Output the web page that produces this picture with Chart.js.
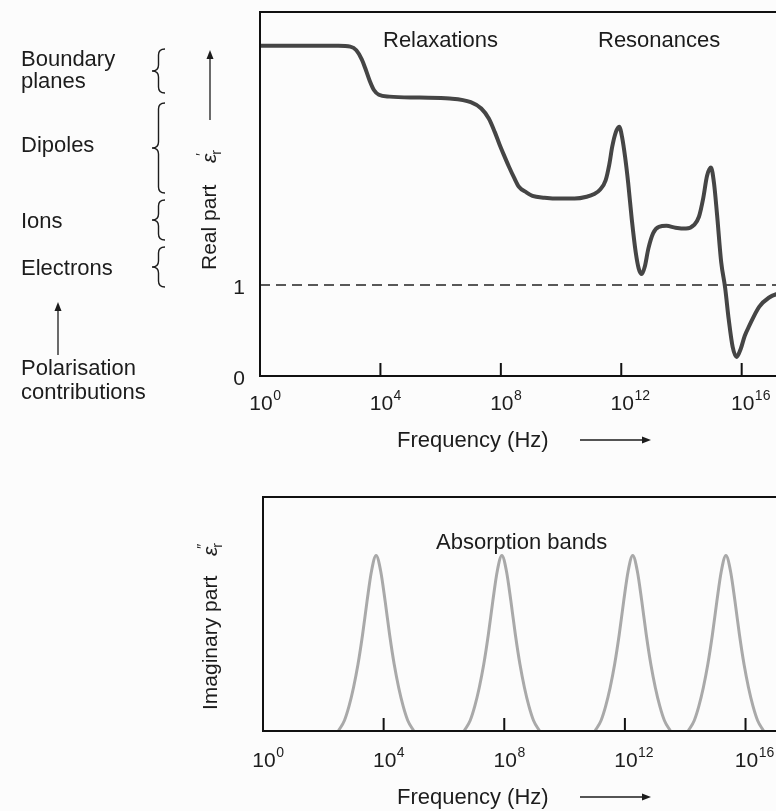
<!DOCTYPE html>
<html><head><meta charset="utf-8">
<script src="https://cdn.jsdelivr.net/npm/chart.js@4.4.1/dist/chart.umd.min.js"></script>
<style>
html,body{margin:0;padding:0;overflow:hidden;width:776px;height:811px;background:#fcfcfc;}
#top{position:absolute;left:0;top:0;}
#bot{position:absolute;left:0;top:470px;}
</style></head><body>
<canvas id="top" width="832" height="470"></canvas>
<canvas id="bot" width="836" height="341"></canvas>
<script>
// ---------- data (frequency as log10 exponent of Hz) ----------
const realExp = [0, 1.5, 2.6, 3.0, 3.2, 3.38, 3.52, 3.65, 3.79, 3.95, 4.3, 5.3, 6.3, 7.0, 7.35, 7.6, 7.8, 7.95, 8.1, 8.27, 8.44, 8.6, 8.84, 9.05, 9.45, 9.95, 10.45, 10.85, 11.1, 11.3, 11.48, 11.6, 11.7, 11.82, 11.93, 12.03, 12.13, 12.23, 12.35, 12.48, 12.58, 12.68, 12.78, 12.9, 13.06, 13.25, 13.5, 13.8, 14.15, 14.42, 14.58, 14.72, 14.85, 14.98, 15.08, 15.18, 15.32, 15.45, 15.57, 15.7, 15.83, 15.97, 16.1, 16.25, 16.58, 16.9, 17.25, 17.6, 18.0, 18.5, 19.0];
const realVal = [3.63, 3.63, 3.63, 3.62, 3.58, 3.48, 3.36, 3.24, 3.14, 3.09, 3.07, 3.06, 3.05, 3.01, 2.94, 2.83, 2.68, 2.55, 2.43, 2.30, 2.18, 2.08, 2.02, 1.98, 1.96, 1.95, 1.95, 1.97, 2.00, 2.05, 2.15, 2.32, 2.52, 2.68, 2.74, 2.62, 2.40, 2.12, 1.72, 1.36, 1.18, 1.12, 1.20, 1.40, 1.57, 1.64, 1.65, 1.63, 1.62, 1.66, 1.75, 1.95, 2.20, 2.29, 2.12, 1.78, 1.25, 0.97, 0.62, 0.32, 0.21, 0.30, 0.44, 0.55, 0.76, 0.86, 0.91, 0.94, 0.96, 0.97, 0.98];
const vacuumExp = [0, 19];
const vacuumVal = [1, 1];
// absorption bands (null = gap between bands)
const absExp = [
  2.50, 2.70, 2.85, 3.00, 3.15, 3.30, 3.45, 3.60, 3.75, 3.90, 4.05, 4.20, 4.35, 4.50, 4.65, 4.80, 5.00, 5.8,
  6.67, 6.87, 7.02, 7.17, 7.32, 7.47, 7.62, 7.77, 7.92, 8.07, 8.22, 8.37, 8.52, 8.67, 8.82, 8.97, 9.17, 10.0,
  11.01, 11.21, 11.36, 11.51, 11.66, 11.81, 11.96, 12.11, 12.26, 12.41, 12.56, 12.71, 12.86, 13.01, 13.16, 13.31, 13.51, 13.8,
  14.10, 14.30, 14.45, 14.60, 14.75, 14.90, 15.05, 15.20, 15.35, 15.50, 15.65, 15.80, 15.95, 16.10, 16.25, 16.40, 16.60];
const absVal = [
  0, 0.045, 0.105, 0.185, 0.285, 0.41, 0.555, 0.685, 0.75, 0.685, 0.555, 0.41, 0.285, 0.185, 0.105, 0.045, 0, null,
  0, 0.045, 0.105, 0.185, 0.285, 0.41, 0.555, 0.685, 0.75, 0.685, 0.555, 0.41, 0.285, 0.185, 0.105, 0.045, 0, null,
  0, 0.045, 0.105, 0.185, 0.285, 0.41, 0.555, 0.685, 0.75, 0.685, 0.555, 0.41, 0.285, 0.185, 0.105, 0.045, 0, null,
  0, 0.045, 0.105, 0.185, 0.285, 0.41, 0.555, 0.685, 0.75, 0.685, 0.555, 0.41, 0.285, 0.185, 0.105, 0.045, 0];
const xTickExps = [0, 4, 8, 12, 16, 20];
const yTickVals = [0, 1];
const xMaxExp = 19;

// ---------- styling ----------
const FONT = '"Liberation Sans", Arial, Helvetica, sans-serif';
const TXT = '#1c1c1c';

const toPts = (ex, vals) => ex.map((e, i) => ({x: Math.pow(10, e), y: vals[i]}));

function arrow(ctx, x1, y1, x2, y2) {
  const ang = Math.atan2(y2 - y1, x2 - x1), L = 9, W = 3.5;
  ctx.beginPath(); ctx.moveTo(x1, y1);
  ctx.lineTo(x2 - L * Math.cos(ang) * 0.8, y2 - L * Math.sin(ang) * 0.8); ctx.stroke();
  ctx.beginPath(); ctx.moveTo(x2, y2);
  ctx.lineTo(x2 - L * Math.cos(ang) + W * Math.sin(ang), y2 - L * Math.sin(ang) - W * Math.cos(ang));
  ctx.lineTo(x2 - L * Math.cos(ang) - W * Math.sin(ang), y2 - L * Math.sin(ang) + W * Math.cos(ang));
  ctx.closePath(); ctx.fill();
}
function brace(ctx, x, y0, y1, w) {
  const ym = (y0 + y1) / 2, r = 6, xm = x + w * 0.5;
  ctx.beginPath();
  ctx.moveTo(x + w, y0);
  ctx.quadraticCurveTo(xm, y0, xm, y0 + r);
  ctx.lineTo(xm, ym - r);
  ctx.quadraticCurveTo(xm, ym, x, ym);
  ctx.quadraticCurveTo(xm, ym, xm, ym + r);
  ctx.lineTo(xm, y1 - r);
  ctx.quadraticCurveTo(xm, y1, x + w, y1);
  ctx.stroke();
}
function frameAndTicks(chart, labelBase) {
  const {ctx, chartArea: a, scales: {x}} = chart;
  ctx.save();
  ctx.strokeStyle = '#111'; ctx.lineWidth = 2;
  ctx.strokeRect(a.left, a.top, a.right - a.left, a.bottom - a.top);
  xTickExps.forEach(e => {
    const px = x.getPixelForValue(Math.pow(10, e));
    if (e > 0) { ctx.beginPath(); ctx.moveTo(px, a.bottom); ctx.lineTo(px, a.bottom - 13); ctx.stroke(); }
    ctx.fillStyle = TXT; ctx.textAlign = 'left'; ctx.textBaseline = 'alphabetic';
    ctx.font = `21px ${FONT}`;
    const w = ctx.measureText('10').width;
    const x0 = px - w / 2 + 1;
    ctx.fillText('10', x0, labelBase);
    ctx.font = `14px ${FONT}`;
    ctx.fillText(String(e), x0 + w + 0.5, labelBase - 10);
  });
  ctx.restore();
}
function freqTitle(ctx, baseY) {
  ctx.save();
  ctx.fillStyle = TXT; ctx.strokeStyle = TXT; ctx.lineWidth = 1.3;
  ctx.font = `22px ${FONT}`; ctx.textAlign = 'left'; ctx.textBaseline = 'alphabetic';
  ctx.fillText('Frequency (Hz)', 397, baseY);
  arrow(ctx, 580, baseY - 7, 651, baseY - 7);
  ctx.restore();
}
function epsLabel(ctx, x, y, prime) {
  // drawn in rotated frame
  ctx.font = `italic 21px ${FONT}`;
  ctx.fillText('\u03B5', x, y);
  const w = ctx.measureText('\u03B5').width;
  ctx.font = `14px ${FONT}`;
  ctx.fillText(prime, x + w - 2, y - 10);
  ctx.fillText('r', x + w - 1, y + 5);
}

const topDeco = {
  id: 'topDeco',
  afterDraw(chart) {
    const ctx = chart.ctx;
    frameAndTicks(chart, 410);
    freqTitle(ctx, 447);
    ctx.save();
    ctx.fillStyle = TXT; ctx.strokeStyle = TXT;
    ctx.font = `22px ${FONT}`; ctx.textAlign = 'left'; ctx.textBaseline = 'alphabetic';
    ctx.fillText('Relaxations', 383, 47);
    ctx.fillText('Resonances', 598, 47);
    // left annotations
    ctx.fillText('Boundary', 21, 66);
    ctx.fillText('planes', 21, 88);
    ctx.fillText('Dipoles', 21, 152);
    ctx.fillText('Ions', 21, 228);
    ctx.fillText('Electrons', 21, 275);
    ctx.fillText('Polarisation', 21, 375);
    ctx.fillText('contributions', 21, 399);
    ctx.lineWidth = 1.4;
    brace(ctx, 152, 49, 93, 13);
    brace(ctx, 152, 103, 193, 13);
    brace(ctx, 152, 200, 240, 13);
    brace(ctx, 152, 247, 287, 13);
    ctx.lineWidth = 1.3;
    arrow(ctx, 58, 355, 58, 302);
    // y title
    ctx.save();
    ctx.translate(216, 270); ctx.rotate(-Math.PI / 2);
    ctx.font = `21px ${FONT}`;
    ctx.fillText('Real part', 0, 0);
    epsLabel(ctx, 107, 0, '\u2032');
    arrow(ctx, 150, -6, 220, -6);
    ctx.restore();
    ctx.restore();
  }
};

const botDeco = {
  id: 'botDeco',
  afterDraw(chart) {
    const ctx = chart.ctx;
    frameAndTicks(chart, 297);
    freqTitle(ctx, 334);
    ctx.save();
    ctx.fillStyle = TXT;
    ctx.font = `22px ${FONT}`; ctx.textAlign = 'left'; ctx.textBaseline = 'alphabetic';
    ctx.fillText('Absorption bands', 436, 79);
    ctx.translate(217, 240); ctx.rotate(-Math.PI / 2);
    ctx.font = `21px ${FONT}`;
    ctx.fillText('Imaginary part', 0, 0);
    epsLabel(ctx, 154, 0, '\u2033');
    ctx.restore();
  }
};

const commonPlugins = {legend: {display: false}, tooltip: {enabled: false}};

new Chart(document.getElementById('top'), {
  type: 'line',
  data: {
    datasets: [
      {label: 'Real part', data: toPts(realExp, realVal), borderColor: '#454545', borderWidth: 4,
       pointRadius: 0, cubicInterpolationMode: 'monotone', fill: false, order: 0},
      {label: 'Vacuum', data: toPts(vacuumExp, vacuumVal), borderColor: '#222', borderWidth: 1.5,
       borderDash: [10, 6], pointRadius: 0, fill: false, order: 1}
    ]
  },
  options: {
    responsive: false, animation: false, devicePixelRatio: 1,
    layout: {padding: {left: 0, right: 0, top: 12, bottom: 94}},
    plugins: commonPlugins,
    scales: {
      x: {type: 'logarithmic', min: 1, max: Math.pow(10, xMaxExp), display: false},
      y: {type: 'linear', min: 0, max: 4,
          afterBuildTicks: s => { s.ticks = yTickVals.map(v => ({value: v})); },
          afterFit: s => { s.width = 260; s.paddingTop = 0; s.paddingBottom = 0; },
          grid: {display: false, drawTicks: true, tickLength: 15}, border: {display: false},
          ticks: {font: {family: FONT, size: 21, lineHeight: 1}, color: TXT, padding: 0, labelOffset: 3}}
    }
  },
  plugins: [topDeco]
});

new Chart(document.getElementById('bot'), {
  type: 'line',
  data: {
    datasets: [
      {label: 'Imaginary part', data: toPts(absExp, absVal), borderColor: '#a9a9a9', borderWidth: 3,
       pointRadius: 0, cubicInterpolationMode: 'monotone', fill: false, spanGaps: false}
    ]
  },
  options: {
    responsive: false, animation: false, devicePixelRatio: 1,
    layout: {padding: {left: 263, right: 0, top: 27, bottom: 80}},
    plugins: commonPlugins,
    scales: {
      x: {type: 'logarithmic', min: 1, max: Math.pow(10, xMaxExp), display: false},
      y: {type: 'linear', min: 0, max: 1, display: false}
    }
  },
  plugins: [botDeco]
});
</script>
</body></html>
